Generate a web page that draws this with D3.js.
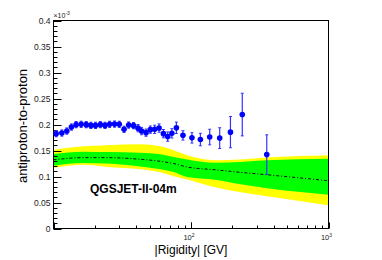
<!DOCTYPE html>
<html>
<head>
<meta charset="utf-8">
<script src="https://cdn.jsdelivr.net/npm/d3@7"></script>
<style>
  body { margin: 0; background: #fff; }
  text { font-family: "Liberation Sans", Arial, sans-serif; }
</style>
</head>
<body>
<div id="chart"></div>
<script>

// data points (|rigidity| in GV, ratio in units of 1e-3, error)
var rigidity = [10.46, 11.5, 12.5, 13.5, 14.6, 15.9, 17.3, 18.7, 20.2, 21.9, 23.7, 25.6,
                27.8, 30.1, 32.6, 35.2, 38.2, 41.2, 43.7, 47.1, 50.6, 54.4, 58.6, 63.0,
                67.7, 72.6, 78.3, 87.4, 101.6, 117, 136.8, 161.7, 193.6, 236, 355.6];
var ratio = [0.1824, 0.1836, 0.1874, 0.1951, 0.1997, 0.2003, 0.1997, 0.1983, 0.1983, 0.1997,
             0.1983, 0.2003, 0.2008, 0.2003, 0.1907, 0.1989, 0.1978, 0.1930, 0.1874, 0.1843,
             0.1901, 0.1907, 0.1932, 0.1824, 0.1767, 0.1830, 0.1936, 0.1791, 0.1743, 0.1711,
             0.1759, 0.1738, 0.1853, 0.2191, 0.1421];
var ratioErr = [0.006, 0.006, 0.006, 0.006, 0.006, 0.006, 0.006, 0.006, 0.006, 0.006,
                0.006, 0.006, 0.006, 0.006, 0.006, 0.006, 0.006, 0.007, 0.007, 0.007,
                0.007, 0.008, 0.008, 0.008, 0.009, 0.009, 0.011, 0.009, 0.010, 0.012,
                0.015, 0.020, 0.030, 0.041, 0.038];

// model band (QGSJET-II-04m)
var bandR     = [10, 16.5, 24.5, 42.8, 59.8, 74.8, 93.7, 150, 229, 358, 1000];
var yellowHi  = [0.1515, 0.158, 0.160, 0.1619, 0.158, 0.1503, 0.1407, 0.1311, 0.1326, 0.1363, 0.1407];
var greenHi   = [0.1432, 0.1478, 0.1471, 0.1459, 0.1427, 0.1375, 0.1325, 0.1263, 0.128, 0.1311, 0.1340];
var central   = [0.1321, 0.1363, 0.1363, 0.1331, 0.1292, 0.1248, 0.1183, 0.1129, 0.108, 0.1033, 0.0918];
var greenLo   = [0.1206, 0.1258, 0.1248, 0.1190, 0.1139, 0.1087, 0.0991, 0.0937, 0.085, 0.0774, 0.0649];
var yellowLo  = [0.1167, 0.1225, 0.1183, 0.1139, 0.1081, 0.1004, 0.0941, 0.0793, 0.0697, 0.0620, 0.0447];

var yTicks = [0, 0.05, 0.1, 0.15, 0.2, 0.25, 0.3, 0.35, 0.4];
var xLabels = [{v: 100, e: '2'}, {v: 1000, e: '3'}];

var W = 382, H = 260;
var pLeft = 53.5, pRight = 328.5, pTop = 20.5, pBottom = 228.5;

var svg = d3.select('#chart').append('svg')
            .attr('width', W)
            .attr('height', H);

var x = d3.scaleLog().domain([10, 1000]).range([pLeft, pRight]);
var y = d3.scaleLinear().domain([0, 0.4]).range([pBottom, pTop]);

var band = bandR.map(function(r, i){
  return {r: r, yh: yellowHi[i], gh: greenHi[i], c: central[i], gl: greenLo[i], yl: yellowLo[i]};
});

var curve = d3.curveMonotoneX;

svg.append('path')
   .datum(band)
   .attr('fill', '#ffff00')
   .attr('d', d3.area().curve(curve)
       .x(function(d){ return x(d.r); })
       .y0(function(d){ return y(d.yl); })
       .y1(function(d){ return y(d.yh); }));

svg.append('path')
   .datum(band)
   .attr('fill', '#00ff00')
   .attr('d', d3.area().curve(curve)
       .x(function(d){ return x(d.r); })
       .y0(function(d){ return y(d.gl); })
       .y1(function(d){ return y(d.gh); }));

svg.append('path')
   .datum(band)
   .attr('fill', 'none')
   .attr('stroke', '#000')
   .attr('stroke-width', 1)
   .attr('stroke-dasharray', '3,2,1,2')
   .attr('d', d3.line().curve(curve)
       .x(function(d){ return x(d.r); })
       .y(function(d){ return y(d.c); }));

// frame
svg.append('rect')
   .attr('x', pLeft).attr('y', pTop)
   .attr('width', pRight - pLeft).attr('height', pBottom - pTop)
   .attr('fill', 'none')
   .attr('stroke', '#000')
   .attr('stroke-width', 1);

// y ticks (inside)
var yMinor = d3.range(0, 0.4001, 0.01);
svg.selectAll('.ymin').data(yMinor).enter().append('line')
   .attr('x1', pLeft).attr('x2', function(d, i){ return pLeft + (i % 5 === 0 ? 8 : 4); })
   .attr('y1', function(d){ return Math.round(y(d)) + 0.5; })
   .attr('y2', function(d){ return Math.round(y(d)) + 0.5; })
   .attr('stroke', '#000');

svg.selectAll('.ylab').data(yTicks).enter().append('text')
   .attr('x', pLeft - 3)
   .attr('y', function(d){ return y(d) + 3; })
   .attr('text-anchor', 'end')
   .attr('font-size', 8.5)
   .attr('fill', '#222')
   .text(function(d){ return d === 0 ? '0' : d3.format('~g')(d); });

svg.append('text')
   .attr('x', pLeft)
   .attr('y', pTop - 3)
   .attr('font-size', 7)
   .attr('fill', '#222')
   .text('\u00d710')
   .append('tspan')
   .attr('dy', -3)
   .attr('font-size', 5)
   .text('-3');

// x ticks (inside, log)
var xMinor = [];
[10, 100].forEach(function(dec){
  for (var k = 1; k <= 10; k++) xMinor.push(dec * k);
});
svg.selectAll('.xmin').data(xMinor).enter().append('line')
   .attr('x1', function(d){ return Math.round(x(d)) + 0.5; })
   .attr('x2', function(d){ return Math.round(x(d)) + 0.5; })
   .attr('y1', pBottom)
   .attr('y2', function(d){ return pBottom - ([10, 100, 1000].indexOf(d) >= 0 ? 6 : 3); })
   .attr('stroke', '#000');

var xl = svg.selectAll('.xlab').data(xLabels).enter().append('text')
   .attr('x', function(d){ return x(d.v) - 2; })
   .attr('y', pBottom + 11)
   .attr('text-anchor', 'middle')
   .attr('font-size', 7.5)
   .attr('fill', '#222');
xl.append('tspan').text('10');
xl.append('tspan').attr('dy', -3).attr('font-size', 5).text(function(d){ return d.e; });

// data points
var pts = rigidity.map(function(r, i){ return {r: r, v: ratio[i], e: ratioErr[i]}; });

var g = svg.append('g');
g.selectAll('.err').data(pts).enter().append('line')
   .attr('x1', function(d){ return x(d.r); })
   .attr('x2', function(d){ return x(d.r); })
   .attr('y1', function(d){ return y(d.v - d.e); })
   .attr('y2', function(d){ return y(d.v + d.e); })
   .attr('stroke', '#3333ff')
   .attr('stroke-width', 1.2);
[-1, 1].forEach(function(s){
  g.selectAll('.cap' + s).data(pts).enter().append('line')
     .attr('x1', function(d){ return x(d.r) - 1.5; })
     .attr('x2', function(d){ return x(d.r) + 1.5; })
     .attr('y1', function(d){ return y(d.v + s * d.e); })
     .attr('y2', function(d){ return y(d.v + s * d.e); })
     .attr('stroke', '#3333ff')
     .attr('stroke-width', 1);
});
g.selectAll('.pt').data(pts).enter().append('circle')
   .attr('cx', function(d){ return x(d.r); })
   .attr('cy', function(d){ return y(d.v); })
   .attr('r', 2.8)
   .attr('fill', '#0000ff');

// labels
svg.append('text')
   .attr('x', 90)
   .attr('y', 192.5)
   .attr('font-size', 12)
   .attr('font-weight', 'bold')
   .attr('fill', '#000')
   .text('QGSJET-II-04m');

svg.append('text')
   .attr('x', (pLeft + pRight) / 2)
   .attr('y', 254)
   .attr('text-anchor', 'middle')
   .attr('font-size', 12)
   .attr('fill', '#000')
   .text('|Rigidity| [GV]');

svg.append('text')
   .attr('transform', 'translate(27,' + 126 + ') rotate(-90)')
   .attr('text-anchor', 'middle')
   .attr('font-size', 13)
   .attr('fill', '#000')
   .text('antiproton-to-proton');

</script>
</body>
</html>
